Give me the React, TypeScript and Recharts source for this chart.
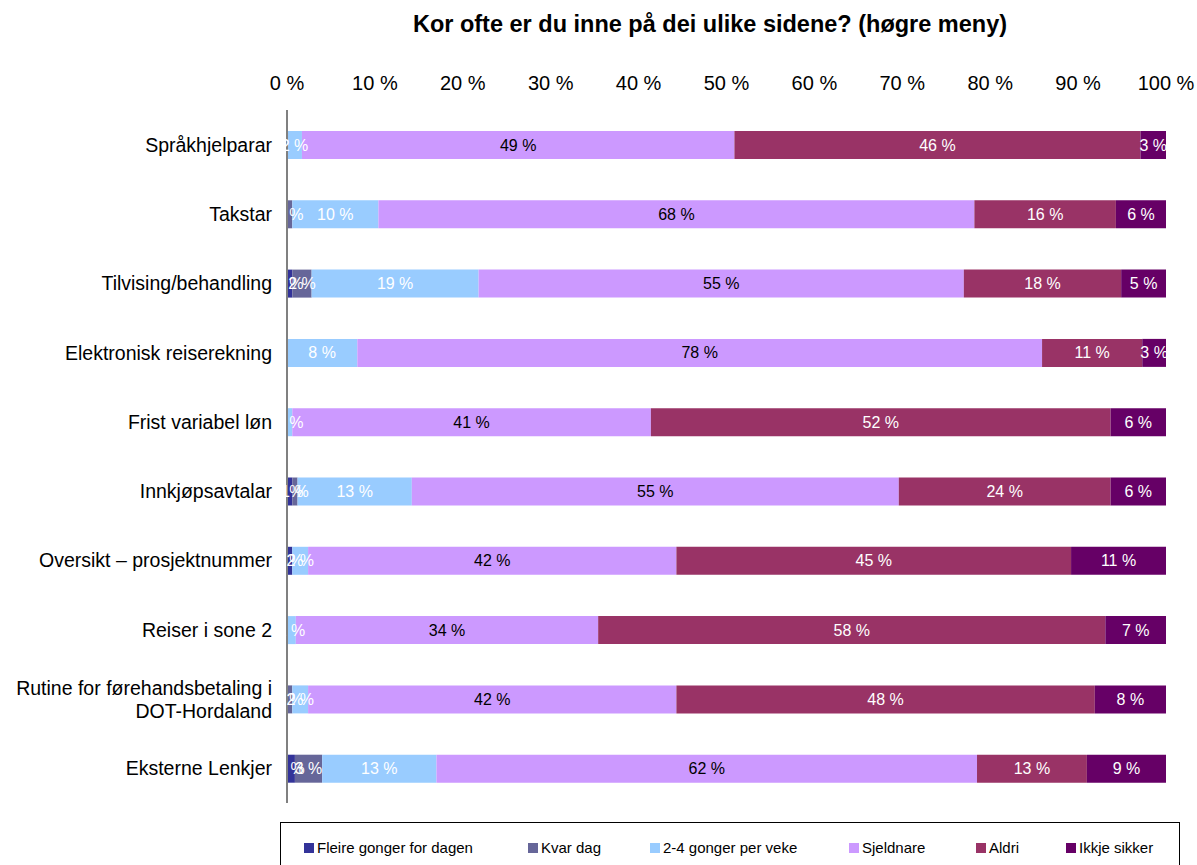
import { BarChart, Bar, XAxis, YAxis, LabelList } from 'recharts';

const categories = [
  'Språkhjelparar',
  'Takstar',
  'Tilvising/behandling',
  'Elektronisk reiserekning',
  'Frist variabel løn',
  'Innkjøpsavtalar',
  'Oversikt – prosjektnummer',
  'Reiser i sone 2',
  'Rutine for førehandsbetaling i\nDOT-Hordaland',
  'Eksterne Lenkjer',
];

const fleireGonger = [0, 0, 0.6, 0, 0, 0.6, 0.6, 0, 0, 0.9];
const kvarDag = [0, 0.6, 2.2, 0, 0, 0.6, 0, 0, 0.6, 3.1];
const toFireGonger = [1.7, 9.8, 19.0, 8.0, 0.6, 13.0, 1.8, 1.0, 1.8, 13.0];
const sjeldnare = [49.2, 67.8, 55.2, 77.9, 40.8, 55.4, 41.9, 34.4, 41.9, 61.5];
const aldri = [46.2, 16.1, 17.9, 11.4, 52.3, 24.1, 44.9, 57.7, 47.6, 12.5];
const ikkjeSikker = [2.9, 5.7, 5.1, 2.7, 6.3, 6.3, 10.8, 6.9, 8.1, 9.0];

const xTicks = [0, 10, 20, 30, 40, 50, 60, 70, 80, 90, 100];

const series = [
  { key: 'fleire', name: 'Fleire gonger for dagen', values: fleireGonger, color: '#333399', text: '#fff' },
  { key: 'kvar', name: 'Kvar dag', values: kvarDag, color: '#666699', text: '#fff' },
  { key: 'toFire', name: '2-4 gonger per veke', values: toFireGonger, color: '#99CCFF', text: '#fff' },
  { key: 'sjeldnare', name: 'Sjeldnare', values: sjeldnare, color: '#CC99FF', text: '#000' },
  { key: 'aldri', name: 'Aldri', values: aldri, color: '#993366', text: '#fff' },
  { key: 'ikkje', name: 'Ikkje sikker', values: ikkjeSikker, color: '#660066', text: '#fff' },
];

const data = categories.map((name, i) => {
  const row: Record<string, any> = { name };
  series.forEach((s) => {
    row[s.key] = s.values[i];
  });
  return row;
});

const FONT = 'Arial, "Liberation Sans", sans-serif';

const CategoryTick = (props: any) => {
  const { x, y, payload } = props;
  const lines = String(payload.value).split('\n');
  const lineH = 23;
  const start = y - ((lines.length - 1) * lineH) / 2;
  return (
    <text x={x - 7} y={start} textAnchor="end" dominantBaseline="central" fontSize={19.5} fontFamily={FONT} fill="#000">
      {lines.map((l, i) => (
        <tspan key={i} x={x - 7} dy={i === 0 ? 0 : lineH}>
          {l}
        </tspan>
      ))}
    </text>
  );
};

const PercentTick = (props: any) => {
  const { x, y, payload } = props;
  return (
    <text x={x} y={y - 19} textAnchor="middle" dominantBaseline="central" fontSize={20} fontFamily={FONT} fill="#000">
      {`${payload.value} %`}
    </text>
  );
};

const makeLabel = (color: string) => (props: any) => {
  const { x, y, width, height, value } = props;
  if (!value) return null;
  return (
    <text
      x={x + width / 2}
      y={y + height / 2}
      textAnchor="middle"
      dominantBaseline="central"
      fontSize={16}
      fontFamily={FONT}
      fill={color}
    >
      {`${Math.round(value)} %`}
    </text>
  );
};

// legend item x offsets inside the box
const legendOffsets = [23, 247, 369, 568, 695, 785];

export default function App() {
  return (
    <div style={{ position: 'absolute', left: 0, top: 0, width: 1197, height: 865, background: '#fff', overflow: 'hidden' }}>
      <div
        style={{
          position: 'absolute',
          left: 0,
          width: 1420,
          top: 11,
          textAlign: 'center',
          fontFamily: FONT,
          fontWeight: 'bold',
          fontSize: 23.5,
        }}
      >
        Kor ofte er du inne på dei ulike sidene? (høgre meny)
      </div>
      <BarChart
        width={1197}
        height={865}
        data={data}
        layout="vertical"
        margin={{ top: 60, right: 31, bottom: 62, left: 0 }}
        barCategoryGap={41}
      >
        <XAxis
          type="number"
          orientation="top"
          domain={[0, 100]}
          ticks={xTicks}
          height={50}
          axisLine={false}
          tickLine={false}
          tick={<PercentTick />}
        />
        <YAxis
          type="category"
          dataKey="name"
          width={287}
          axisLine={{ stroke: '#808080', strokeWidth: 2 }}
          tickLine={false}
          tick={<CategoryTick />}
          interval={0}
        />
        {series.map((s) => (
          <Bar key={s.key} dataKey={s.key} name={s.name} stackId="a" fill={s.color} barSize={28} isAnimationActive={false}>
            <LabelList dataKey={s.key} content={makeLabel(s.text)} />
          </Bar>
        ))}
      </BarChart>
      <div
        style={{
          position: 'absolute',
          left: 280,
          top: 822,
          width: 898,
          height: 60,
          border: '1px solid #000',
          fontFamily: FONT,
          fontSize: 15,
          background: '#fff',
        }}
      >
        {series.map((s, i) => (
          <div
            key={s.key}
            style={{
              position: 'absolute',
              left: legendOffsets[i],
              top: 16,
              display: 'flex',
              alignItems: 'center',
              whiteSpace: 'nowrap',
            }}
          >
            <span style={{ width: 10, height: 10, background: s.color, display: 'inline-block', marginRight: 3 }} />
            <span>{s.name}</span>
          </div>
        ))}
      </div>
    </div>
  );
}
